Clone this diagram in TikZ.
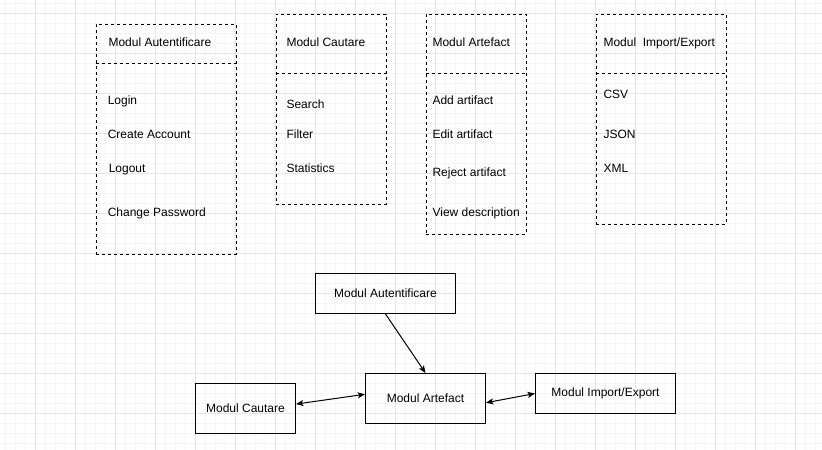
\documentclass[tikz,border=0pt]{standalone}
\usepackage{xcolor}
\usepackage{fontspec}
\setmainfont{Liberation Sans}
\usetikzlibrary{arrows.meta}
\definecolor{gridmajor}{HTML}{E6E6E6}
\definecolor{gridminor}{HTML}{F5F5F5}

\begin{document}
\begin{tikzpicture}[x=0.75pt,y=-0.75pt,font=\fontsize{9pt}{11pt}\selectfont]
			\tikzstyle{part} = [draw, dash pattern=on 2.25pt off 2.25pt, line width=0.75pt, inner sep=0pt, anchor=north west]
			\tikzstyle{divider} = [dash pattern=on 2.25pt off 2.25pt, line width=0.75pt]
			\tikzstyle{item} = [anchor=west, inner sep=0pt, text height=6.5pt, text depth=1.9pt]
			\tikzstyle{module} = [draw, line width=0.75pt, inner sep=0pt]
			\tikzset{edge/.style = {line width=0.75pt, -{Stealth[length=5.5pt,width=4.5pt,inset=1.2pt]}}}
			\tikzset{biedge/.style = {line width=0.75pt, {Stealth[length=5.5pt,width=4.5pt,inset=1.2pt]}-{Stealth[length=5.5pt,width=4.5pt,inset=1.2pt]}}}
			
			\useasboundingbox (0,0) rectangle (822,450);
			\fill[white] (0,0) rectangle (822,450);
			\foreach \gx in {5.5,15.5,...,815.5} \draw[gridminor, line width=0.75pt] (\gx,0) -- (\gx,450);
			\foreach \gy in {3.3,13.3,...,443.3} \draw[gridminor, line width=0.75pt] (0,\gy) -- (822,\gy);
			\foreach \gx in {35.5,75.5,...,795.5} \draw[gridmajor, line width=0.75pt] (\gx,0) -- (\gx,450);
			\foreach \gy in {13.3,53.3,...,413.3} \draw[gridmajor, line width=0.75pt] (0,\gy) -- (822,\gy);
			
			% modules with their functions
			\node[part, minimum width=105pt, minimum height=172.5pt](authbox) at (95.5,23.5) {};
			\draw[divider]([yshift=-30pt]authbox.north west) -- ([yshift=-30pt]authbox.north east);
			\node[item](authtitle) at (108.3,43.5) {Modul Autentificare};
			\node[item](login) at (107.5,101.5) {Login};
			\node[item](create) at (107.5,135.5) {Create Account};
			\node[item](logout) at (108.5,169.5) {Logout};
			\node[item](password) at (107.5,213.5) {Change Password};
			
			\node[part, minimum width=82.5pt, minimum height=142.5pt](cautbox) at (275.5,13.5) {};
			\draw[divider]([yshift=-45pt]cautbox.north west) -- ([yshift=-45pt]cautbox.north east);
			\node[item](cauttitle) at (286.3,43.5) {Modul Cautare};
			\node[item](search) at (286.3,105.5) {Search};
			\node[item](filter) at (286.3,135.5) {Filter};
			\node[item](stats) at (286.3,169.5) {Statistics};
			
			\node[part, minimum width=75pt, minimum height=165pt](artbox) at (425.5,13.5) {};
			\draw[divider]([yshift=-45pt]artbox.north west) -- ([yshift=-45pt]artbox.north east);
			\node[item](arttitle) at (432.3,43.5) {Modul Artefact};
			\node[item](add) at (432.3,101.5) {Add artifact};
			\node[item](edit) at (432.3,135.5) {Edit artifact};
			\node[item](reject) at (432.3,173.5) {Reject artifact};
			\node[item](view) at (432.3,213.5) {View description};
			
			\node[part, minimum width=97.5pt, minimum height=157.5pt](iebox) at (595.5,13.5) {};
			\draw[divider]([yshift=-45pt]iebox.north west) -- ([yshift=-45pt]iebox.north east);
			\node[item](ietitle) at (603.3,43.5) {Modul\ \ Import/Export};
			\node[item](csv) at (603.3,95.5) {CSV};
			\node[item](json) at (603.3,135.5) {JSON};
			\node[item](xml) at (603.3,169.5) {XML};
			
			% how the modules talk
			\node[module, minimum width=105pt, minimum height=30pt](authmod) at (385.5,293.5) {Modul Autentificare};
			\node[module, minimum width=90pt, minimum height=37.5pt](artmod) at (425.5,398.5) {Modul Artefact};
			\node[module, minimum width=75pt, minimum height=37.5pt](cautmod) at (245.5,408.5) {Modul Cautare};
			\node[module, minimum width=105pt, minimum height=30pt](iemod) at (605.5,393.5) {Modul Import/Export};
			\draw[edge](authmod.south) to (artmod.north);
			\draw[biedge](cautmod.5) to (artmod.176);
			\draw[biedge](artmod.-4) to (iemod.west);
			
\end{tikzpicture}
\end{document}
